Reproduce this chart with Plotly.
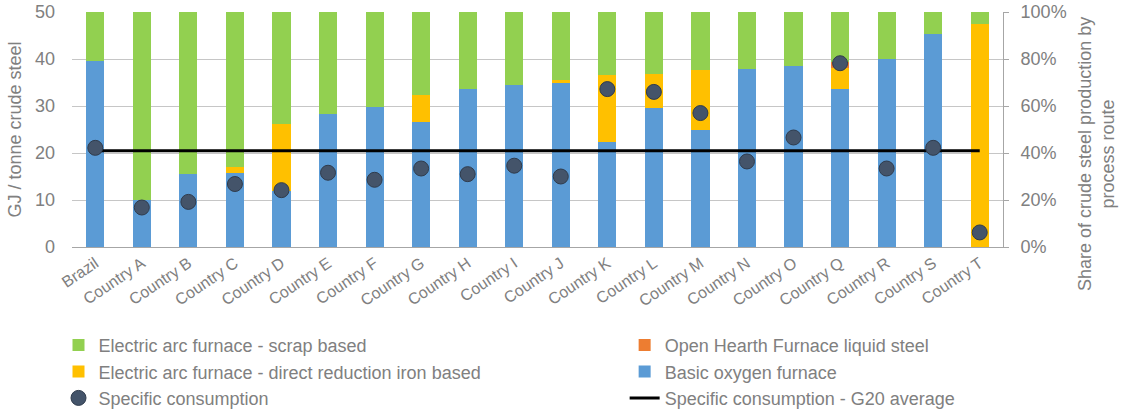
import plotly.graph_objects as go

categories = ["Brazil", "Country A", "Country B", "Country C", "Country D", "Country E",
              "Country F", "Country G", "Country H", "Country I", "Country J", "Country K",
              "Country L", "Country M", "Country N", "Country O", "Country Q", "Country R",
              "Country S", "Country T"]

# shares of crude steel production (%)
bof_share   = [79, 20, 31, 31.6, 24, 56.5, 59.7, 53.3, 67.1, 68.8, 69.9, 44.5, 59.3, 49.9, 75.9, 77.2, 67.1, 80.1, 90.8, 0]
dri_share   = [0, 0, 0, 2.4, 28.2, 0, 0, 11.4, 0, 0, 1.2, 28.6, 14.3, 25.4, 0, 0, 9.2, 0, 0, 94.8]
ohf_share   = [0, 0, 0, 0, 0, 0, 0, 0, 0, 0, 0, 0, 0, 0, 0, 0, 2.4, 0, 0, 0]
scrap_share = [21, 80, 69, 66, 47.8, 43.5, 40.3, 35.3, 32.9, 31.2, 28.9, 26.9, 26.4, 24.7, 24.1, 22.8, 21.3, 19.9, 9.2, 5.2]

# specific energy consumption (GJ / tonne crude steel)
specific = [21.1, 8.4, 9.6, 13.4, 12.1, 15.8, 14.3, 16.7, 15.5, 17.3, 15.0, 33.6, 33.0, 28.5,
            18.2, 23.3, 39.1, 16.7, 21.1, 3.1]
g20_average = 20.5

FONT = "Liberation Sans, Arial, sans-serif"
GREY = "#808080"
GRID = "#c6c6c6"

fig = go.Figure()
fig.add_trace(go.Bar(x=categories, y=bof_share, name="Basic oxygen furnace",
                     marker=dict(color="#5b9bd5", line=dict(width=0)), yaxis="y",
                     legend="legend2", legendrank=2))
fig.add_trace(go.Bar(x=categories, y=dri_share, name="Electric arc furnace - direct reduction iron based",
                     marker=dict(color="#ffc000", line=dict(width=0)), yaxis="y",
                     legend="legend", legendrank=2))
fig.add_trace(go.Bar(x=categories, y=ohf_share, name="Open Hearth Furnace liquid steel",
                     marker=dict(color="#ed7d31", line=dict(width=0)), yaxis="y",
                     legend="legend2", legendrank=1))
fig.add_trace(go.Bar(x=categories, y=scrap_share, name="Electric arc furnace - scrap based",
                     marker=dict(color="#92d050", line=dict(width=0)), yaxis="y",
                     legend="legend", legendrank=1))
fig.add_trace(go.Scatter(x=categories, y=[g20_average] * len(categories), mode="lines",
                         name="Specific consumption - G20 average",
                         line=dict(color="black", width=3), yaxis="y2",
                         legend="legend2", legendrank=3))
fig.add_trace(go.Scatter(x=categories, y=specific, mode="markers", name="Specific consumption",
                         marker=dict(color="#44546a", size=15, line=dict(color="#2f3b4c", width=1)),
                         yaxis="y2", legend="legend", legendrank=3))

legend_style = dict(orientation="v", xanchor="left", yanchor="top", traceorder="normal",
                    font=dict(family=FONT, size=18, color=GREY), tracegroupgap=0,
                    bgcolor="rgba(0,0,0,0)", itemclick=False)

fig.update_layout(
    width=1128, height=414,
    margin=dict(l=72, r=125, t=12, b=167, autoexpand=False),
    paper_bgcolor="white", plot_bgcolor="white",
    barmode="stack", bargap=0.61,
    font=dict(family=FONT, color=GREY, size=18),
    showlegend=True,
    legend=dict(x=-0.0145, y=-0.34, **legend_style),
    legend2=dict(x=0.5936, y=-0.34, **legend_style),
    xaxis=dict(type="category", tickangle=-34, tickfont=dict(size=16, color=GREY),
               showgrid=False, showline=True, linecolor="#a6a6a6", linewidth=1,
               ticks="", range=[-0.5, len(categories) - 0.5]),
    yaxis=dict(side="right", range=[0, 100], dtick=20, ticksuffix="%",
               showgrid=True, gridcolor=GRID, gridwidth=1,
               showline=True, linecolor="#a6a6a6", ticks="outside", ticklen=5, tickcolor="#a6a6a6",
               ticklabelstandoff=8,
               zeroline=False, tickfont=dict(size=18, color=GREY)),
    yaxis2=dict(overlaying="y", side="left", range=[0, 50], dtick=10,
                showgrid=False, zeroline=False, showline=False, ticks="",
                ticklabelstandoff=16,
                tickfont=dict(size=18, color=GREY),
                title=dict(text="GJ / tonne crude steel", font=dict(size=18, color=GREY), standoff=8)),
    annotations=[dict(text="Share of crude steel production by<br>process route",
                      xref="paper", yref="paper", x=1.101, y=0.396, xanchor="center", yanchor="middle",
                      textangle=-90, showarrow=False, font=dict(family=FONT, size=18, color=GREY))],
)

fig.write_html("out.html", config={"displayModeBar": False},
               post_script="document.body.style.margin='0';")
